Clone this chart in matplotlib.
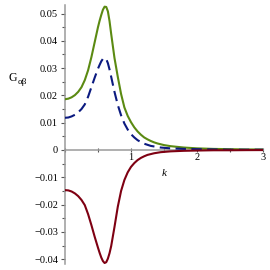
import matplotlib
matplotlib.use("Agg")
import matplotlib.pyplot as plt
from matplotlib.ticker import MultipleLocator, FixedLocator

# values
k = [0, 0.05, 0.1, 0.15, 0.2, 0.25, 0.3, 0.35, 0.4, 0.45, 0.5,
     0.525, 0.55, 0.575, 0.6, 0.625, 0.65, 0.675, 0.7,
     0.75, 0.8, 0.85, 0.9, 0.95, 1.0, 1.05, 1.1, 1.15, 1.2, 1.25, 1.3, 1.35,
     1.4, 1.45, 1.5,
     1.6, 1.8, 2.0, 2.25, 2.5, 2.75, 3.0]
g_green = [0.0186, 0.0188, 0.0193, 0.0201, 0.0213, 0.0230, 0.0256, 0.0292,
           0.0340, 0.0395, 0.0450,
           0.0474, 0.0495, 0.0514, 0.0525, 0.0524, 0.0508, 0.0472, 0.0425,
           0.0337, 0.0268, 0.0205, 0.0156, 0.0125, 0.0102, 0.0083, 0.0068,
           0.0056, 0.0046, 0.0039, 0.0033, 0.0028, 0.0024, 0.0021, 0.0018,
           0.0014, 0.0009, 0.0006, 0.0004, 0.0003, 0.0002, 0.0002]
g_blue = [0.0118, 0.0119, 0.0123, 0.0129, 0.0138, 0.0150, 0.0167, 0.0195,
          0.0230, 0.0265, 0.0298,
          0.0312, 0.0325, 0.0334, 0.0337, 0.0333, 0.0318, 0.0295, 0.0268,
          0.0213, 0.0165, 0.0127, 0.0097, 0.0075, 0.0058, 0.0046, 0.0036,
          0.0029, 0.0023, 0.0019, 0.0015, 0.0013, 0.0011, 0.0009, 0.0008,
          0.0006, 0.0004, 0.0003, 0.0002, 0.0001, 0.0001, 0.0001]
g_red = [-0.0147, -0.0148, -0.0152, -0.0159, -0.0169, -0.0183, -0.0202, -0.0235,
         -0.0275, -0.0318, -0.0358,
         -0.0377, -0.0394, -0.0407, -0.0414, -0.0411, -0.0398, -0.0378, -0.0352,
         -0.0282, -0.0208, -0.0150, -0.0110, -0.0082, -0.0062, -0.0048, -0.0037,
         -0.0029, -0.0023, -0.0018, -0.0015, -0.0012, -0.0010, -0.0008, -0.0007,
         -0.0005, -0.0003, -0.0002, -0.0001, -0.0001, -0.00005, -0.00003]

y_ticks = [-0.04, -0.03, -0.02, -0.01, 0, 0.01, 0.02, 0.03, 0.04, 0.05]
y_labels = ["\u22120.04", "\u22120.03", "\u22120.02", "\u22120.01", "0",
            "0.01", "0.02", "0.03", "0.04", "0.05"]
x_ticks = [1, 2, 3]

plt.rcParams["font.family"] = ["Liberation Serif", "DejaVu Serif"]

fig = plt.figure(figsize=(2.7, 2.7), dpi=100)
ax = fig.add_axes([0.2407, 0.0219, 0.7333, 0.9604])

ax.plot(k, g_green, color="#5b8a12", lw=1.5, zorder=3, solid_joinstyle="round")
ax.plot(k, g_blue, color="#0b1a80", lw=1.5, dashes=(5, 2.6), zorder=3)
ax.plot(k, g_red, color="#7e0012", lw=1.5, zorder=3, solid_joinstyle="round")

ax.set_xlim(0, 3)
ax.set_ylim(-0.0418, 0.0532)

for s in ("top", "right"):
    ax.spines[s].set_visible(False)
ax.spines["left"].set_position(("data", 0))
ax.spines["bottom"].set_position(("data", 0))
for s in ("left", "bottom"):
    ax.spines[s].set_color("#9a9a9a")
    ax.spines[s].set_linewidth(1.1)

ax.yaxis.set_major_locator(FixedLocator(y_ticks))
ax.yaxis.set_minor_locator(MultipleLocator(0.005))
ax.set_yticklabels(y_labels)
ax.xaxis.set_major_locator(FixedLocator(x_ticks))
ax.xaxis.set_minor_locator(MultipleLocator(0.5))
ax.set_xticklabels([str(t) for t in x_ticks])

ax.tick_params(axis="y", which="both", direction="out", length=3, width=0.8,
               color="#555555", labelsize=7.5, pad=2)
ax.tick_params(axis="y", which="minor", length=2)
ax.tick_params(axis="x", which="both", direction="inout", length=3, width=0.8,
               color="#555555", labelsize=7.5, pad=1)

ax.text(1.5, -0.0085, "k", style="italic", fontsize=8, ha="center", va="center")
fig.text(0.03, 0.711, "G", fontsize=8.5, ha="left", va="center")
fig.text(0.064, 0.695, "\u03b1\u03b2", fontsize=6.5, ha="left", va="center")

fig.savefig("out.png", dpi=100)
